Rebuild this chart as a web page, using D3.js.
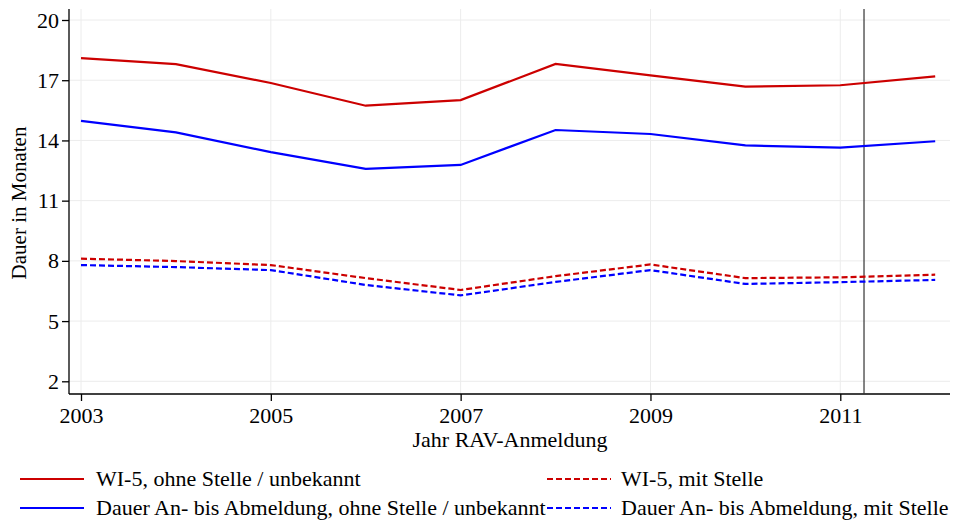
<!DOCTYPE html>
<html><head><meta charset="utf-8">
<script src="https://cdn.jsdelivr.net/npm/d3@7"></script>
<style>body{margin:0;background:#fff}svg{display:block}text{font-family:"Liberation Serif","Times New Roman",serif;fill:#000}</style>
</head><body><svg id="c" width="954" height="525"></svg>
<script>
const years = [2003,2004,2005,2006,2007,2008,2009,2010,2011,2012];
const wi5Ohne = [18.10,17.80,16.86,15.73,16.01,17.81,17.24,16.68,16.75,17.19];
const dauerOhne = [14.97,14.40,13.42,12.58,12.78,14.52,14.32,13.75,13.64,13.96];
const wi5Mit = [8.11,7.99,7.79,7.14,6.55,7.24,7.82,7.14,7.18,7.31];
const dauerMit = [7.79,7.69,7.54,6.80,6.28,6.95,7.54,6.85,6.94,7.05];
const yTicks = [2,5,8,11,14,17,20];
const xTicks = [2003,2005,2007,2009,2011];
const markerYear = 2011.25;
const seriesNames = ["WI-5, ohne Stelle / unbekannt","WI-5, mit Stelle","Dauer An- bis Abmeldung, ohne Stelle / unbekannt","Dauer An- bis Abmeldung, mit Stelle"];

const svg = d3.select("#c");
const L=69, R=950, T=9, B=394;
const x = d3.scaleLinear().domain([2003,2012]).range([81,935.2]);
const y = d3.scaleLinear().domain([2,20]).range([381.3,20]);

// grid
svg.append("g").selectAll("line").data(yTicks).join("line")
 .attr("x1",L).attr("x2",R).attr("y1",d=>y(d)).attr("y2",d=>y(d))
 .attr("stroke","#ececec").attr("stroke-width",1);
svg.append("g").selectAll("line").data(xTicks).join("line")
 .attr("x1",d=>x(d)).attr("x2",d=>x(d)).attr("y1",T).attr("y2",B)
 .attr("stroke","#ececec").attr("stroke-width",1);

// axes
const ya = svg.append("g").attr("transform",`translate(${L},0)`)
 .call(d3.axisLeft(y).tickValues(yTicks).tickSize(7).tickPadding(3).tickSizeOuter(0));
ya.select(".domain").attr("d",`M0,${T}V${B}`).attr("stroke","#000").attr("stroke-width",1.3);
ya.selectAll(".tick line").attr("stroke","#000").attr("stroke-width",1.3);
ya.selectAll(".tick text").attr("font-size",22).attr("font-family","Liberation Serif");

const xa = svg.append("g").attr("transform",`translate(0,${B})`)
 .call(d3.axisBottom(x).tickValues(xTicks).tickFormat(d3.format("d")).tickSize(7).tickPadding(6).tickSizeOuter(0));
xa.select(".domain").attr("d",`M${L},0H${R}`).attr("stroke","#000").attr("stroke-width",1.3);
xa.selectAll(".tick line").attr("stroke","#000").attr("stroke-width",1.3);
xa.selectAll(".tick text").attr("font-size",22).attr("font-family","Liberation Serif");

// vertical marker
svg.append("line").attr("x1",x(markerYear)).attr("x2",x(markerYear)).attr("y1",T).attr("y2",B)
 .attr("stroke","#333").attr("stroke-width",1.2);

// lines
const line = d3.line().x((d,i)=>x(years[i])).y(d=>y(d));
const series = [
 {v:wi5Ohne,c:"#cc0000",dash:null},
 {v:wi5Mit,c:"#cc0000",dash:"6,3"},
 {v:dauerOhne,c:"#0000ff",dash:null},
 {v:dauerMit,c:"#0000ff",dash:"6,3"}];
series.forEach(s=>{
 svg.append("path").attr("d",line(s.v)).attr("fill","none").attr("stroke",s.c)
  .attr("stroke-width",2.2).attr("stroke-dasharray",s.dash);
});

// axis titles
svg.append("text").attr("transform","translate(26,203) rotate(-90)").attr("text-anchor","middle")
 .attr("font-size",21).text("Dauer in Monaten");
svg.append("text").attr("x",510).attr("y",447).attr("text-anchor","middle")
 .attr("font-size",22).text("Jahr RAV-Anmeldung");

// legend
const leg = [
 {s:series[0],n:seriesNames[0],x:20,lx:96,y:479},
 {s:series[1],n:seriesNames[1],x:547,lx:621,y:479},
 {s:series[2],n:seriesNames[2],x:20,lx:96,y:508},
 {s:series[3],n:seriesNames[3],x:547,lx:621,y:508}];
leg.forEach(l=>{
 svg.append("line").attr("x1",l.x).attr("x2",l.x+64).attr("y1",l.y).attr("y2",l.y)
  .attr("stroke",l.s.c).attr("stroke-width",2.2).attr("stroke-dasharray",l.s.dash);
 svg.append("text").attr("x",l.lx).attr("y",l.y+7).attr("font-size",22).text(l.n);
});
</script></body></html>
